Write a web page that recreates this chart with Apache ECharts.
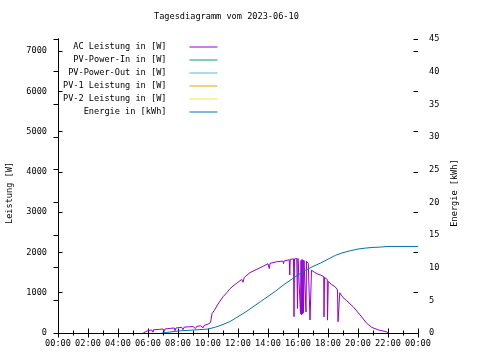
<!DOCTYPE html>
<html><head><meta charset="utf-8">
<script src="https://cdn.jsdelivr.net/npm/echarts@6/dist/echarts.min.js"></script>
<style>html,body{margin:0;padding:0;background:#fff}#c{width:480px;height:360px}</style>
</head><body><div id="c"></div>
<script>
const titleText = 'Tagesdiagramm vom 2023-06-10';
const xTickLabels = ['00:00','02:00','04:00','06:00','08:00','10:00','12:00','14:00','16:00','18:00','20:00','22:00','00:00'];
const seriesNames = ['AC Leistung in [W]','PV-Power-In in [W]','PV-Power-Out in [W]','PV-1 Leistung in [W]','PV-2 Leistung in [W]','Energie in [kWh]'];
const seriesColors = ['#9400d3','#009e73','#56b4e9','#e69f00','#f0e442','#0072b2'];

const acTimes = ['05:41','05:45','06:00','06:15','06:20','06:22','06:45','07:00','07:05','07:08','07:30','07:45','07:48','07:52','08:00','08:15','08:20','08:25','08:45','09:00','09:10','09:15','09:30','09:40','09:45','10:00','10:10','10:14','10:16','10:25','10:40','11:00','11:15','11:28','11:45','12:00','12:15','12:20','12:25','12:48','13:15','13:42','14:00','14:05','14:08','14:35','15:00','15:02','15:05','15:25','15:27','15:29','15:35','15:42','15:44','15:46','15:55','15:58','16:00','16:08','16:10','16:12','16:14','16:16','16:18','16:20','16:22','16:24','16:30','16:32','16:34','16:41','16:47','16:48','16:53','16:54','17:05','17:20','17:30','17:43','17:44','17:46','17:57','17:58','18:00','18:01','18:15','18:28','18:38','18:40','18:46','18:47','19:00','19:15','19:41','20:08','20:35','20:55','21:22','21:55','22:01'];
const acWatts = [0,40,60,75,20,80,90,100,40,100,115,125,60,125,130,140,80,145,155,160,110,165,180,130,190,220,260,290,480,560,720,900,1000,1100,1190,1260,1330,1260,1380,1500,1580,1660,1720,1600,1730,1770,1785,1720,1790,1820,1440,1830,1860,1840,405,1840,1850,610,1850,1820,480,1800,450,1830,470,1810,500,1800,1790,520,1780,1730,1700,322,300,1560,1510,1460,1440,1400,400,1380,1330,320,300,1280,1200,1150,1070,280,290,1000,880,800,650,450,240,140,75,30,0];

const energyTimes = ['06:55','08:00','09:00','10:00','10:30','11:00','11:30','12:00','12:30','13:00','13:30','14:00','14:30','15:00','15:30','16:00','16:30','17:00','17:30','18:00','18:30','19:00','19:30','20:00','20:30','21:00','21:30','22:00','24:00'];
const energyKWh = [0,0.3,0.45,0.6,0.9,1.3,1.8,2.5,3.2,4.0,4.8,5.6,6.4,7.3,8.1,8.9,9.6,10.2,10.7,11.3,11.9,12.3,12.6,12.85,13.0,13.1,13.15,13.25,13.25];

const toMin = s => Number(s.slice(0,2))*60 + Number(s.slice(3));
const pairs = (ts, vs) => ts.map((t,i) => [toMin(t), vs[i]]);

const FONT = 'DejaVu Sans Mono';
const FS = 8.6;
const txt = {fontFamily: FONT, fontSize: FS, color: '#000'};
const axisLine = {show: true, lineStyle: {color: '#000', width: 1}};

const chart = echarts.init(document.getElementById('c'), null, {renderer: 'canvas'});
const seriesData = [pairs(acTimes, acWatts), [], [], [], [], pairs(energyTimes, energyKWh)];

chart.setOption({
  animation: false,
  backgroundColor: '#fff',
  title: {text: titleText, left: 154, top: 12, padding: 0,
    textStyle: {fontFamily: FONT, fontSize: FS, fontWeight: 'normal', color: '#000'}},
  legend: {
    orient: 'vertical', left: 63, top: 42, padding: 0, align: 'right',
    icon: 'rect', itemWidth: 28, itemHeight: 1, itemGap: 3,
    textStyle: Object.assign({lineHeight: 10, padding: [0, 18, 0, 0]}, txt),
    data: seriesNames
  },
  grid: {left: 58, right: 62, top: 39, bottom: 27, containLabel: false, outerBoundsMode: 'none'},
  xAxis: [
    {type: 'value', min: 0, max: 1440, interval: 120, position: 'bottom',
     axisLine: axisLine, splitLine: {show: false},
     axisTick: {show: true, inside: true, length: 4.5, lineStyle: {color: '#000'}},
     minorTick: {show: true, splitNumber: 2, length: 2.5, lineStyle: {color: '#000'}},
     axisLabel: Object.assign({margin: 6, formatter: v => xTickLabels[Math.round(v/120)]}, txt)},
    {type: 'value', min: 0, max: 1440, interval: 120, position: 'top',
     axisLine: axisLine, splitLine: {show: false},
     axisTick: {show: true, inside: true, length: 4.5, lineStyle: {color: '#000'}},
     minorTick: {show: true, splitNumber: 2, length: 2.5, lineStyle: {color: '#000'}},
     axisLabel: {show: false}}
  ],
  yAxis: [
    {type: 'value', min: 0, max: 7300, interval: 1000, position: 'left',
     name: 'Leistung [W]', nameLocation: 'middle', nameGap: 44, nameRotate: 90,
     nameTextStyle: Object.assign({padding: [0, 14, 0, 0]}, txt),
     axisLine: axisLine, splitLine: {show: false},
     axisTick: {show: true, inside: true, length: 4.5, lineStyle: {color: '#000'}},
     axisLabel: Object.assign({margin: 11, showMaxLabel: false, formatter: v => (v % 1000 === 0 ? String(v) : '')}, txt)},
    {type: 'value', min: 0, max: 45, interval: 5, position: 'right',
     name: 'Energie [kWh]', nameLocation: 'middle', nameGap: 30, nameRotate: 90,
     nameTextStyle: Object.assign({padding: [0, 14, 0, 0]}, txt),
     axisLine: axisLine, splitLine: {show: false},
     axisTick: {show: true, inside: true, length: 4.5, lineStyle: {color: '#000'}},
     axisLabel: Object.assign({margin: 11}, txt)},
    {type: 'value', min: 0, max: 7300, interval: 1000, position: 'right',
     axisLine: {show: false}, splitLine: {show: false},
     axisTick: {show: true, inside: true, length: 4.5, lineStyle: {color: '#000'}},
     axisLabel: {show: false}}
  ],
  series: seriesNames.map((n, i) => ({
    name: n, type: 'line', xAxisIndex: 0, yAxisIndex: i === 5 ? 1 : 0,
    data: seriesData[i], showSymbol: false, symbol: 'none',
    color: seriesColors[i],
    lineStyle: {color: seriesColors[i], width: 1},
    emphasis: {disabled: true}
  }))
});
</script>
</body></html>
